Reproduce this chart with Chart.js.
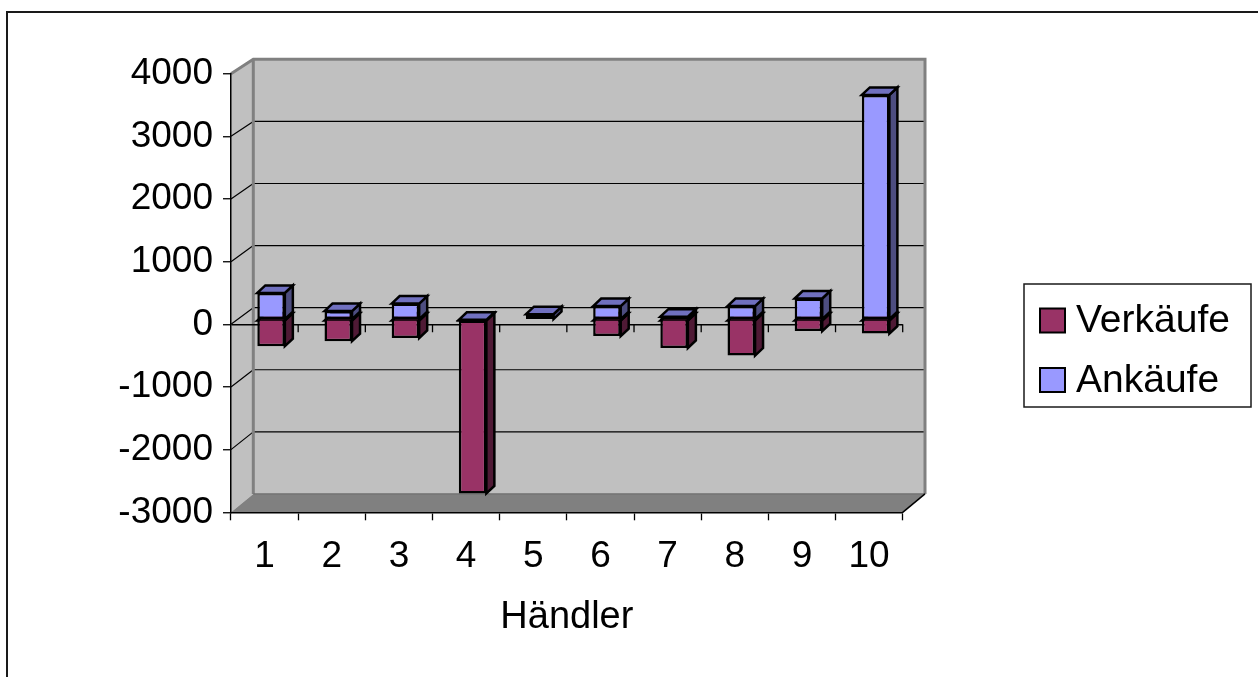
<!DOCTYPE html>
<html lang="de">
<head>
<meta charset="utf-8">
<title>Händler – Verkäufe und Ankäufe</title>
<script src="https://cdn.jsdelivr.net/npm/chart.js@4.4.1/dist/chart.umd.min.js"></script>
<style>
  html, body { margin: 0; padding: 0; background: #ffffff; }
  #wrap { position: relative; width: 1258px; height: 677px; }
</style>
</head>
<body>
<div id="wrap"><canvas id="chart" width="1258" height="677"></canvas></div>
<script>
// Händler 1–10, Verkäufe (negativ) und Ankäufe (positiv)
const categories = ['1', '2', '3', '4', '5', '6', '7', '8', '9', '10'];
const verkaeufe = [-420, -340, -290, -2770, 0, -260, -450, -570, -180, -220];
const ankaeufe  = [430, 140, 260, 0, 90, 220, 50, 220, 340, 3590];
const yMin = -3000;
const yMax = 4000;
const yStep = 1000;
const axisTitle = 'Händler';
const seriesNames = ['Verkäufe', 'Ankäufe'];

// Look of the 3D box
const FONT = '"Liberation Sans", Arial, sans-serif';
const WALL = '#c0c0c0';
const FLOOR = '#808080';
const EDGE = '#808080';
const WALL_DX = 22.3;        // depth of the wall box
const WALL_TOP_DY = -14.4;   // top of back wall relative to front
const BACK_SCALE = 0.991;    // back wall value scale vs. front
const BAR_DX = 6.5, BAR_DY = -4.5;   // bars sit a little behind the front plane
const DEPTH_DX = 8, DEPTH_DY = -7.5; // depth of each bar
const OUTLINE = 2.5;

const faces = [
  { front: '#993366', side: '#4f1a35', top: '#73264d' },
  { front: '#9999ff', side: '#4d4d80', top: '#7070bf' }
];

function backY(chart, v) {
  const ys = chart.scales.y;
  const top = ys.getPixelForValue(yMax);
  return top + WALL_TOP_DY + (ys.getPixelForValue(v) - top) * BACK_SCALE;
}

const box3d = {
  id: 'box3d',
  beforeDraw(chart) {
    const ctx = chart.ctx;
    const xs = chart.scales.x, ys = chart.scales.y;
    const L = xs.left, R = xs.right;
    const T = ys.getPixelForValue(yMax), B = ys.getPixelForValue(yMin);
    const bT = backY(chart, yMax), bB = backY(chart, yMin);
    const bL = L + WALL_DX, bR = R + WALL_DX;
    ctx.save();
    // outer frame
    ctx.strokeStyle = '#1a1a1a';
    ctx.lineWidth = 2;
    ctx.strokeRect(7, 12, 1400, 800);
    // back wall
    ctx.fillStyle = WALL;
    ctx.fillRect(bL, bT, bR - bL, bB - bT);
    // side wall
    ctx.beginPath();
    ctx.moveTo(L, T); ctx.lineTo(bL, bT); ctx.lineTo(bL, bB); ctx.lineTo(L, B); ctx.closePath();
    ctx.fill();
    // floor
    ctx.fillStyle = FLOOR;
    ctx.beginPath();
    ctx.moveTo(L, B); ctx.lineTo(bL, bB); ctx.lineTo(bR, bB); ctx.lineTo(R, B); ctx.closePath();
    ctx.fill();
    // gridlines on back and side wall
    ctx.strokeStyle = '#000';
    ctx.lineWidth = 1.2;
    ys.ticks.forEach(t => {
      if (t.value === yMax || t.value === yMin) return;
      const fy = ys.getPixelForValue(t.value), by = backY(chart, t.value);
      ctx.beginPath();
      ctx.moveTo(bL, by); ctx.lineTo(bR, by);
      ctx.moveTo(L, fy); ctx.lineTo(bL, by);
      ctx.stroke();
    });
    // grey edges of the box
    ctx.strokeStyle = EDGE;
    ctx.lineWidth = 3;
    ctx.beginPath();
    ctx.moveTo(L, T); ctx.lineTo(bL, bT); ctx.lineTo(bR, bT); ctx.lineTo(bR, bB);
    ctx.moveTo(bL, bT); ctx.lineTo(bL, bB);
    ctx.stroke();
    ctx.strokeStyle = '#6e6e6e';
    ctx.lineWidth = 1.2;
    ctx.beginPath();
    ctx.moveTo(bL, bB); ctx.lineTo(bR, bB);
    ctx.stroke();
    ctx.strokeStyle = '#000';
    ctx.lineWidth = 1.5;
    ctx.beginPath();
    ctx.moveTo(R, B); ctx.lineTo(bR, bB);
    ctx.stroke();
    ctx.restore();
  },
  beforeDatasetsDraw(chart) {
    const ctx = chart.ctx;
    const xs = chart.scales.x, ys = chart.scales.y;
    const y0 = ys.getPixelForValue(0);
    const half = (xs.getPixelForValue(1) - xs.getPixelForValue(0)) / 2;
    // tick marks along the zero line
    ctx.save();
    ctx.strokeStyle = '#000';
    ctx.lineWidth = 1.3;
    ctx.beginPath();
    for (let i = 1; i <= categories.length; i++) {
      const bx = xs.getPixelForValue(i - 1) + half;
      ctx.moveTo(bx, y0); ctx.lineTo(bx, y0 + 8);
    }
    ctx.stroke();
    ctx.restore();

    ctx.save();
    ctx.translate(BAR_DX, BAR_DY);
    // side and top faces of every bar segment
    const last = chart.data.datasets.length - 1;
    chart.data.datasets.forEach((ds, di) => {
      const meta = chart.getDatasetMeta(di);
      meta.data.forEach((el, i) => {
        const v = ds.data[i];
        const p = el.getProps(['x', 'y', 'base', 'width'], true);
        const l = p.x - p.width / 2, r = p.x + p.width / 2;
        let top = Math.min(p.y, p.base);
        const bot = Math.max(p.y, p.base);
        if (v === 0) top = ys.getPixelForValue(0);
        ctx.lineWidth = OUTLINE;
        ctx.lineJoin = 'miter';
        ctx.strokeStyle = '#000';
        if (v !== 0) {
          ctx.fillStyle = faces[di].side;
          ctx.beginPath();
          ctx.moveTo(r, top); ctx.lineTo(r + DEPTH_DX, top + DEPTH_DY);
          ctx.lineTo(r + DEPTH_DX, bot + DEPTH_DY); ctx.lineTo(r, bot); ctx.closePath();
          ctx.fill(); ctx.stroke();
        }
        if (v !== 0 || di === last) {
          ctx.fillStyle = faces[di].top;
          ctx.beginPath();
          ctx.moveTo(l, top); ctx.lineTo(l + DEPTH_DX, top + DEPTH_DY);
          ctx.lineTo(r + DEPTH_DX, top + DEPTH_DY); ctx.lineTo(r, top); ctx.closePath();
          ctx.fill(); ctx.stroke();
        }
      });
    });
  },
  afterDatasetsDraw(chart) {
    chart.ctx.restore();
  },
  afterDraw(chart) {
    // legend box on the right
    const ctx = chart.ctx;
    ctx.save();
    ctx.fillStyle = '#fff';
    ctx.fillRect(1024, 284, 227, 123);
    ctx.strokeStyle = '#1a1a1a';
    ctx.lineWidth = 1.5;
    ctx.strokeRect(1024, 284, 227, 123);
    ctx.font = '39px ' + FONT;
    ctx.textBaseline = 'middle';
    ctx.textAlign = 'left';
    chart.data.datasets.forEach((ds, di) => {
      const cy = 320.5 + di * 59.5;
      ctx.fillStyle = ds.backgroundColor;
      ctx.fillRect(1040, cy - 12, 25, 24);
      ctx.strokeStyle = '#000';
      ctx.lineWidth = 2;
      ctx.strokeRect(1040, cy - 12, 25, 24);
      ctx.fillStyle = '#000';
      ctx.fillText(ds.label, 1076, cy + 1);
    });
    ctx.restore();
  }
};

const outlineWidth = c => (c.raw ? OUTLINE : 0);

new Chart(document.getElementById('chart'), {
  type: 'bar',
  data: {
    labels: categories,
    datasets: [
      { label: seriesNames[0], data: verkaeufe, backgroundColor: faces[0].front,
        borderColor: '#000', borderWidth: outlineWidth,
        // the edge shared with the Ankäufe segment is outlined only once
        borderSkipped: c => (ankaeufe[c.dataIndex] > 0 ? 'start' : false) },
      { label: seriesNames[1], data: ankaeufe, backgroundColor: faces[1].front,
        borderColor: '#000', borderWidth: outlineWidth, borderSkipped: false }
    ]
  },
  options: {
    responsive: false,
    animation: false,
    devicePixelRatio: 1,
    layout: { padding: { left: 0, top: 73.7, right: 355.3, bottom: 0 } },
    datasets: {
      bar: {
        categoryPercentage: 1,
        barPercentage: 0.41,
        clip: false
      }
    },
    plugins: { legend: { display: false }, tooltip: { enabled: false } },
    scales: {
      x: {
        stacked: true,
        offset: true,
        afterFit: s => { s.height = 677 - 512.3; },
        grid: {
          offset: true,
          drawOnChartArea: false,
          drawTicks: true,
          tickLength: 8,
          tickColor: '#000',
          tickWidth: 1.3
        },
        border: { display: true, color: '#000', width: 1.5 },
        ticks: { color: '#000', font: { family: FONT, size: 37 }, padding: 14, maxRotation: 0 },
        title: {
          display: true,
          text: axisTitle,
          color: '#000',
          font: { family: FONT, size: 38 },
          padding: { top: 0, bottom: 37 }
        }
      },
      y: {
        stacked: true,
        min: yMin,
        max: yMax,
        afterFit: s => { s.width = 231; },
        ticks: {
          stepSize: yStep,
          color: '#000',
          font: { family: FONT, size: 37 },
          padding: 10,
          callback: v => String(v)
        },
        grid: {
          drawOnChartArea: true,
          color: c => (c.tick && c.tick.value === 0 ? '#000' : 'rgba(0,0,0,0)'),
          lineWidth: 1.5,
          drawTicks: true,
          tickLength: 8,
          tickColor: '#000',
          tickWidth: 1.3
        },
        border: { display: true, color: '#000', width: 1.5 }
      }
    }
  },
  plugins: [box3d]
});
</script>
</body>
</html>
